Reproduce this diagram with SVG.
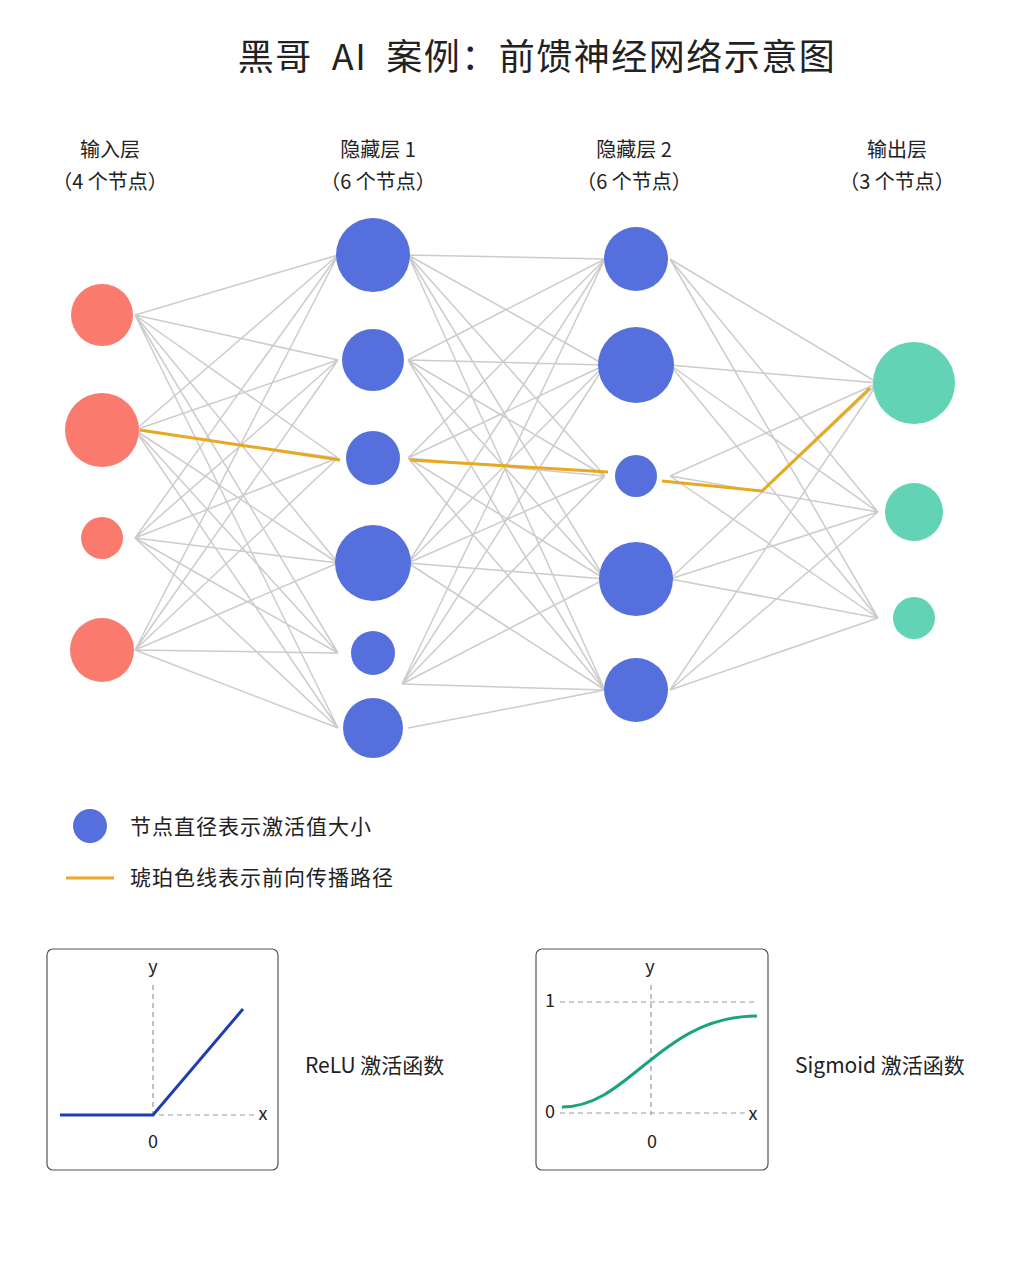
<svg xmlns="http://www.w3.org/2000/svg" width="1024" height="1280" viewBox="0 0 1024 1280">
<style>
text{font-family:"Noto Sans CJK SC","Noto Sans",sans-serif;fill:#222}
.e{stroke:#cccccc;stroke-width:1.5;fill:none}
.a{stroke:#e8a920;stroke-width:3;fill:none}
.in{fill:#fa7a6e}.h{fill:#5570dc}.o{fill:#62d3b5}
.lbl{font-size:20px;text-anchor:middle}
.box{fill:#fff;stroke:#555;stroke-width:1.2}
.ax{stroke:#999;stroke-width:1.2;stroke-dasharray:5 4;fill:none}
.s{font-size:18px;text-anchor:middle}
.lg{font-size:21px;letter-spacing:1px}
</style>
<rect width="1024" height="1280" fill="#fff"/>
<text x="537" y="70" font-size="36" text-anchor="middle" letter-spacing="1.5" xml:space="preserve">黑哥  AI  案例：前馈神经网络示意图</text>
<g id="labels">
<text class="lbl" x="110" y="157">输入层</text><text class="lbl" x="110" y="189">（4 个节点）</text>
<text class="lbl" x="378" y="157">隐藏层 1</text><text class="lbl" x="378" y="189">（6 个节点）</text>
<text class="lbl" x="634" y="157">隐藏层 2</text><text class="lbl" x="634" y="189">（6 个节点）</text>
<text class="lbl" x="897" y="157">输出层</text><text class="lbl" x="897" y="189">（3 个节点）</text>
</g>
<g id="connectors">
<path class="e" d="M135 315L338 255M135 315L338 360M135 315L338 458M135 315L338 563M135 315L338 653M135 315L338 728
M135 430L338 255M135 430L338 360M135 430L338 458M135 430L338 563M135 430L338 653M135 430L338 728
M135 538L338 255M135 538L338 360M135 538L338 458M135 538L338 563M135 538L338 653M135 538L338 728
M135 650L338 255M135 650L338 360M135 650L338 458M135 650L338 563M135 650L338 653M135 650L338 728"/>
<path class="e" d="M408 255L605 259M408 255L605 365M408 255L605 476M408 255L605 579M408 255L605 690
M408 360L605 259M408 360L605 365M408 360L605 476M408 360L605 579M408 360L605 690
M408 458L605 259M408 458L605 365M408 458L605 476M408 458L605 579M408 458L605 690
M408 563L605 259M408 563L605 365M408 563L605 476M408 563L605 579M408 563L605 690
M402 684L605 259M402 684L605 365M402 684L605 476M402 684L605 579M402 684L605 690
M408 728L605 690"/>
<path class="e" d="M670 259L878 383M670 259L878 512M670 259L878 618
M670 365L878 383M670 365L878 512M670 365L878 618
M670 476L878 383M670 476L878 512M670 476L878 618
M670 579L878 383M670 579L878 512M670 579L878 618
M670 690L878 383M670 690L878 512M670 690L878 618"/>
<path class="a" d="M140 430L340 460M410 460L608 472M662 481L762 491L870 388"/>
</g>
<g id="input">
<circle class="in" cx="102" cy="315" r="31"/><circle class="in" cx="102" cy="430" r="37"/>
<circle class="in" cx="102" cy="538" r="21"/><circle class="in" cx="102" cy="650" r="32"/>
</g>
<g id="hidden1">
<circle class="h" cx="373" cy="255" r="37"/><circle class="h" cx="373" cy="360" r="31"/>
<circle class="h" cx="373" cy="458" r="27"/><circle class="h" cx="373" cy="563" r="38"/>
<circle class="h" cx="373" cy="653" r="22"/><circle class="h" cx="373" cy="728" r="30"/>
</g>
<g id="hidden2">
<circle class="h" cx="636" cy="259" r="32"/><circle class="h" cx="636" cy="365" r="38"/>
<circle class="h" cx="636" cy="476" r="21"/><circle class="h" cx="636" cy="579" r="37"/>
<circle class="h" cx="636" cy="690" r="32"/>
</g>
<g id="output">
<circle class="o" cx="914" cy="383" r="41"/><circle class="o" cx="914" cy="512" r="29"/>
<circle class="o" cx="914" cy="618" r="21"/>
</g>
<g id="legend">
<circle class="h" cx="90" cy="826" r="17"/>
<text class="lg" x="130" y="834">节点直径表示激活值大小</text>
<line x1="66" y1="878" x2="114" y2="878" class="a"/>
<text class="lg" x="130" y="885">琥珀色线表示前向传播路径</text>
</g>
<g id="relu">
<rect class="box" x="47" y="949" width="231" height="221" rx="6"/>
<path class="ax" d="M153 985V1115M60 1115H255"/>
<path d="M60 1115H153L243 1009" stroke="#1f3fb0" stroke-width="3" fill="none"/>
<text class="s" x="153" y="973">y</text><text class="s" x="263" y="1120">x</text><text class="s" x="153" y="1148">0</text>
<text x="305" y="1073" font-size="21">ReLU 激活函数</text>
</g>
<g id="sigmoid">
<rect class="box" x="536" y="949" width="232" height="221" rx="6"/>
<path class="ax" d="M651 985V1115M560 1113H745M560 1002H757"/>
<path d="M562 1107C630 1107 660 1016 757 1016" stroke="#1aa37f" stroke-width="3" fill="none"/>
<text class="s" x="650" y="973">y</text><text class="s" x="753" y="1120">x</text><text class="s" x="652" y="1148">0</text>
<text class="s" x="550" y="1007">1</text><text class="s" x="550" y="1118">0</text>
<text x="795" y="1073" font-size="21">Sigmoid 激活函数</text>
</g>
</svg>
